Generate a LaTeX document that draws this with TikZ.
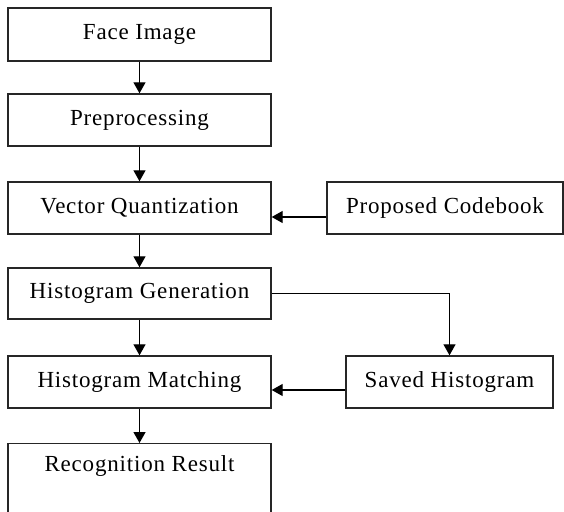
\documentclass[tikz,border=0pt]{standalone}
\usepackage{fontspec}
\setmainfont[LetterSpace=3.5]{Liberation Serif}
\usetikzlibrary{arrows.meta}
\begin{document}
\begin{tikzpicture}[x=1pt,y=-1pt,
  stage/.style={draw=black!85,line width=1.4pt,rectangle,inner sep=0pt,
    font=\fontsize{23}{26}\selectfont},
  flow/.style={draw=black,line width=1.3pt,-{Triangle[width=12pt,length=11pt]}}]
\clip (0,0) rectangle (564,511);
\fill[white] (0,0) rectangle (564,511);
% main column of processing stages
\node[stage,minimum width=263pt,minimum height=53pt] (face) at (139.5,34.5) {Face Image};
\node[stage,minimum width=263pt,minimum height=52pt] (pre)  at (139.5,120) {Preprocessing};
\node[stage,minimum width=263pt,minimum height=52pt] (vq)   at (139.5,208) {Vector Quantization};
\node[stage,minimum width=263pt,minimum height=51pt] (hg)   at (139.5,293.5) {Histogram Generation};
\node[stage,minimum width=263pt,minimum height=52pt] (hm)   at (139.5,382) {Histogram Matching};
\node[stage,minimum width=263pt,minimum height=80pt,anchor=north] (rr) at (139.5,443) {};
\node[font=\fontsize{23}{26}\selectfont] (rrtext) at (139.5,466) {Recognition Result};
% side inputs
\node[stage,minimum width=236pt,minimum height=52pt] (cb) at (445,208) {Proposed Codebook};
\node[stage,minimum width=207pt,minimum height=52pt] (sh) at (449.5,382) {Saved Histogram};
% connectors
\draw[flow] (face) -- (pre);
\draw[flow] (pre) -- (vq);
\draw[flow] (vq) -- (hg);
\draw[flow] (hg) -- (hm);
\draw[flow] (hm) -- (rr);
\draw[flow] ([yshift=-9pt]cb.west) -- ([yshift=-9pt]vq.east);
\draw[flow] ([yshift=-8pt]sh.west) -- ([yshift=-8pt]hm.east);
\draw[flow] (hg.east) -| (sh.north);
\end{tikzpicture}
\end{document}
